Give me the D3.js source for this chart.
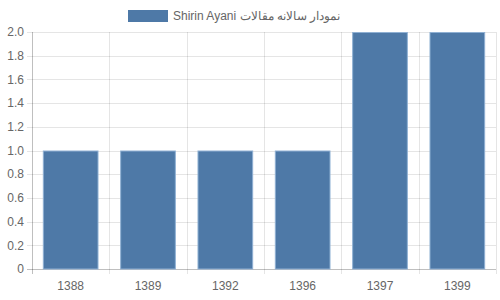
<!DOCTYPE html>
<html><head><meta charset="utf-8">
<script src="https://cdn.jsdelivr.net/npm/d3@7"></script>
<style>body{margin:0;background:#fff}svg{display:block}text{font-family:"Liberation Sans",Arial,sans-serif;fill:#666;font-size:12px}</style>
</head><body><svg id="c" width="500" height="300"></svg>
<script>
const categories = ["1388","1389","1392","1396","1397","1399"];
const values = [1,1,1,1,2,2];
const yTicks = [0,0.2,0.4,0.6,0.8,1.0,1.2,1.4,1.6,1.8,2.0];
const yTickLabels = ["0","0.2","0.4","0.6","0.8","1.0","1.2","1.4","1.6","1.8","2.0"];
const seriesLabel = "Shirin Ayani نمودار سالانه مقالات";

const svg = d3.select("#c");
const L=32,R=496,T=32,B=269;
const x = d3.scaleBand().domain(categories).range([L,R]).paddingInner(0).paddingOuter(0);
const y = d3.scaleLinear().domain([0,2]).range([B,T]);
const grid = "rgba(0,0,0,0.1)";
// horizontal grid
svg.append("g").selectAll("line").data(yTicks).join("line")
  .attr("x1",L-5).attr("x2",R).attr("y1",d=>Math.round(y(d))+0.5).attr("y2",d=>Math.round(y(d))+0.5)
  .attr("stroke",d=>d===0?"rgba(0,0,0,0.25)":grid);
// vertical grid
const bounds = categories.map(c=>x(c)).concat([R]);
svg.append("g").selectAll("line").data(bounds).join("line")
  .attr("x1",d=>Math.round(d)+0.5).attr("x2",d=>Math.round(d)+0.5).attr("y1",T).attr("y2",B+5)
  .attr("stroke",(d,i)=>i===0?"rgba(0,0,0,0.25)":grid);
// y labels
svg.append("g").selectAll("text").data(yTicks).join("text")
  .attr("x",L-8).attr("y",d=>y(d)).attr("dy","0.35em").attr("text-anchor","end")
  .text((d,i)=>yTickLabels[i]);
// x labels
svg.append("g").selectAll("text").data(categories).join("text")
  .attr("x",d=>x(d)+x.bandwidth()/2).attr("y",B+21).attr("text-anchor","middle").text(d=>d);
// bars
const bw = x.bandwidth()*0.72;
svg.append("g").selectAll("rect").data(categories).join("rect")
  .attr("x",d=>x(d)+(x.bandwidth()-bw)/2+0.5).attr("width",bw-1)
  .attr("y",(d,i)=>y(values[i])+0.5).attr("height",(d,i)=>B-y(values[i])-0.5)
  .attr("fill","#4e79a7").attr("stroke","#8fb0d3").attr("stroke-width",1);
// legend
svg.append("rect").attr("x",128).attr("y",10).attr("width",40).attr("height",12).attr("fill","#4e79a7");
svg.append("text").attr("x",173).attr("y",16).attr("dy","0.35em").attr("direction","ltr").text(seriesLabel);
</script></body></html>
